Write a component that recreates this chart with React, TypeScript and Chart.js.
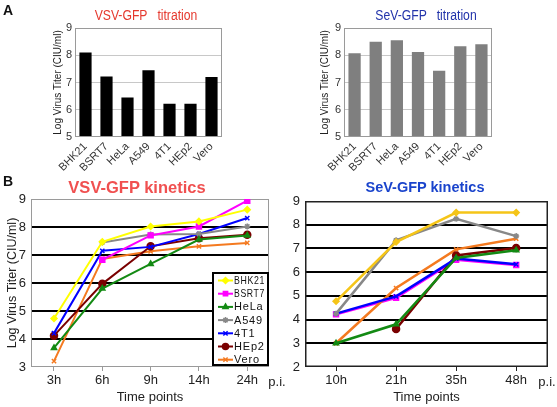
import React, { useEffect, useRef } from 'react';
import { Chart, registerables } from 'chart.js';
import { drawPoint } from 'chart.js/helpers';

Chart.register(...registerables);

const FONT = '"Liberation Sans", Arial, Helvetica, sans-serif';
Chart.defaults.font.family = FONT;

// ---------- data ----------
const cellLines = ['BHK21', 'BSRT7', 'HeLa', 'A549', '4T1', 'HEp2', 'Vero'];
const vsvTiter = [8.1, 7.22, 6.45, 7.45, 6.22, 6.22, 7.2];
const sevTiter = [8.07, 8.5, 8.55, 8.12, 7.43, 8.33, 8.4];
const titerTicks = [5, 6, 7, 8, 9];

const vsvTimes = ['3h', '6h', '9h', '14h', '24h'];
const vsvTicks = [3, 4, 5, 6, 7, 8, 9];
const vsvBHK21 = [4.73, 7.47, 8.02, 8.2, 8.62];
const vsvBSRT7 = [null, 6.83, 7.7, 8.02, 8.94];
const vsvHeLa = [3.68, 5.8, 6.68, 7.55, 7.7];
const vsvA549 = [null, 7.45, 7.73, 7.75, 8.02];
const vsv4T1 = [4.21, 7.15, 7.29, 7.75, 8.32];
const vsvHEp2 = [4.12, 5.97, 7.31, 7.6, 7.72];
const vsvVero = [3.21, 6.86, 7.13, 7.31, 7.43];

const sevTimes = ['10h', '21h', '35h', '48h'];
const sevTicks = [2, 3, 4, 5, 6, 7, 8, 9];
const sevBHK21 = [4.77, 7.27, 8.51, 8.51];
const sevBSRT7 = [4.22, 4.92, 6.52, 6.3];
const sevHeLa = [3.0, 3.8, 6.6, 6.92];
const sevA549 = [4.25, 7.34, 8.25, 7.52];
const sev4T1 = [4.25, 4.98, 6.57, 6.33];
const sevHEp2 = [null, 3.6, 6.7, 7.02];
const sevVero = [3.0, 5.33, 6.96, 7.41];

const vsvSeries = [vsvBHK21, vsvBSRT7, vsvHeLa, vsvA549, vsv4T1, vsvHEp2, vsvVero];
const sevSeries = [sevBHK21, sevBSRT7, sevHeLa, sevA549, sev4T1, sevHEp2, sevVero];

// ---------- styles ----------
type St = { color: string; pointStyle: string; radius: number };
const vsvStyles: St[] = [
  { color: '#ffff00', pointStyle: 'rectRot', radius: 3 },
  { color: '#ff00ff', pointStyle: 'rect', radius: 3.5 },
  { color: '#138a13', pointStyle: 'triangle', radius: 3 },
  { color: '#888888', pointStyle: 'star', radius: 3 },
  { color: '#0000ff', pointStyle: 'crossRot', radius: 3 },
  { color: '#7a0000', pointStyle: 'circle', radius: 3.5 },
  { color: '#f47a20', pointStyle: 'crossRot', radius: 3 },
];
const sevStyles: St[] = vsvStyles.map((s, i) => (i === 0 ? { ...s, color: '#f5c518' } : s));

const framePlugin = {
  id: 'frame',
  beforeDatasetsDraw(chart: any, _a: any, o: any) {
    if (o.after) return;
    drawFrame(chart, o);
  },
  afterDatasetsDraw(chart: any, _a: any, o: any) {
    if (!o.after) return;
    drawFrame(chart, o);
  },
};
function drawFrame(chart: any, o: any) {
  const { ctx, chartArea: a } = chart;
  ctx.save();
  ctx.strokeStyle = o.color || '#999';
  ctx.lineWidth = o.width || 1;
  const h = (o.width || 1) / 2;
  ctx.strokeRect(a.left + h, a.top + h, a.width - 2 * h, a.height - 2 * h);
  ctx.restore();
}

const boxLegendPlugin = {
  id: 'boxLegend',
  afterDatasetsDraw(chart: any, _a: any, o: any) {
    if (!o.display) return;
    const { ctx, chartArea: a } = chart;
    const w = 55, h = 92;
    const x0 = a.right - w - 1, y0 = a.bottom - h - 2;
    ctx.save();
    ctx.fillStyle = '#fff';
    ctx.fillRect(x0, y0, w, h);
    ctx.strokeStyle = '#000';
    ctx.lineWidth = 2;
    ctx.strokeRect(x0, y0, w, h);
    chart.data.datasets.forEach((ds: any, i: number) => {
      const y = y0 + 7.5 + i * 13.2;
      ctx.strokeStyle = ds.borderColor;
      ctx.fillStyle = ds.borderColor;
      ctx.lineWidth = 2;
      ctx.beginPath();
      ctx.moveTo(x0 + 5, y);
      ctx.lineTo(x0 + 20, y);
      ctx.stroke();
      ctx.lineWidth = 1.5;
      drawPoint(ctx, { pointStyle: ds.pointStyle, radius: 3, rotation: 0, borderWidth: 1.5 } as any, x0 + 12.5, y);
      ctx.fillStyle = '#111';
      ctx.font = '11px ' + FONT;
      ctx.textBaseline = 'middle';
      ctx.textAlign = 'left';
      (ctx as any).letterSpacing = '0.8px';
      ctx.fillText(ds.label, x0 + 21, y + 0.5, 31);
      (ctx as any).letterSpacing = '0px';
    });
    ctx.restore();
  },
};

// ---------- configs ----------
function barConfig(values: number[], color: string, padLeft: number, yW: number, padRight: number): any {
  return {
    type: 'bar',
    data: {
      labels: cellLines,
      datasets: [{ data: values, backgroundColor: color, borderWidth: 0, barPercentage: 0.58, categoryPercentage: 1 }],
    },
    options: {
      animation: false,
      responsive: false,
      devicePixelRatio: 1,
      layout: { autoPadding: false, padding: { left: padLeft, right: padRight, top: 28, bottom: 1 } },
      plugins: {
        legend: { display: false },
        tooltip: { enabled: false },
        frame: { color: '#9a9a9a', width: 1, after: true },
      },
      scales: {
        x: {
          grid: { display: false, drawTicks: false },
          border: { display: false },
          ticks: { minRotation: 45, maxRotation: 45, padding: 3, autoSkip: false, font: { size: 11 }, color: '#333' },
          afterFit: (s: any) => { s.height = 40; },
        },
        y: {
          min: 5,
          max: 9,
          afterBuildTicks: (s: any) => { s.ticks = titerTicks.map((v) => ({ value: v })); },
          ticks: { padding: 3, font: { size: 11 }, color: '#333' },
          grid: {
            drawTicks: false,
            lineWidth: 1,
            color: (c: any) => (c.tick && c.tick.value > 5 && c.tick.value < 9 ? '#c8c8c8' : 'rgba(0,0,0,0)'),
          },
          border: { display: false },
          title: { display: true, text: 'Log Virus Titer (CIU/ml)', font: { size: 10 }, color: '#222', padding: { top: 0, bottom: 0 } },
          afterFit: (s: any) => { s.width = yW; },
        },
      },
    },
    plugins: [framePlugin],
  };
}

function lineConfig(p: {
  seriesList: (number | null)[][];
  styles: St[];
  times: string[];
  yTicks: number[];
  xMin: number;
  xMax: number;
  padLeft: number;
  yW: number;
  padRight: number;
  padTop: number;
  frameColor: string;
  frameWidth: number;
  yTitle: boolean;
  legend: boolean;
  lineWidth: number;
  orders?: number[];
}): any {
  const yMin = p.yTicks[0];
  const yMax = p.yTicks[p.yTicks.length - 1];
  return {
    type: 'line',
    data: {
      datasets: cellLines.map((name, i) => ({
        label: name,
        data: p.seriesList[i].map((v, j) => ({ x: j, y: v })),
        borderColor: p.styles[i].color,
        backgroundColor: p.styles[i].color,
        pointBackgroundColor: p.styles[i].color,
        pointBorderColor: p.styles[i].color,
        pointStyle: p.styles[i].pointStyle,
        pointRadius: p.styles[i].radius,
        pointBorderWidth: 1.5,
        borderWidth: p.lineWidth,
        tension: 0,
        spanGaps: false,
        order: p.orders ? p.orders[i] : 0,
      })),
    },
    options: {
      animation: false,
      responsive: false,
      devicePixelRatio: 1,
      layout: { autoPadding: false, padding: { left: p.padLeft, right: p.padRight, top: p.padTop, bottom: 0 } },
      plugins: {
        legend: { display: false },
        tooltip: { enabled: false },
        frame: { color: p.frameColor, width: p.frameWidth, after: false },
        boxLegend: { display: p.legend },
      },
      scales: {
        x: {
          type: 'linear',
          min: p.xMin,
          max: p.xMax,
          afterBuildTicks: (s: any) => { s.ticks = p.times.map((_, i) => ({ value: i })); },
          ticks: {
            callback: (v: any) => p.times[v] ?? '',
            font: { size: 13 },
            color: '#222',
            padding: 2,
            autoSkip: false,
            maxRotation: 0,
          },
          grid: { drawOnChartArea: false, drawTicks: true, tickLength: 4, color: p.frameColor, lineWidth: 1 },
          border: { display: false },
          title: { display: true, text: 'Time points', font: { size: 13 }, color: '#222', padding: { top: 0, bottom: 2 } },
          afterFit: (s: any) => { s.height = 40; },
        },
        y: {
          min: yMin,
          max: yMax,
          afterBuildTicks: (s: any) => { s.ticks = p.yTicks.map((v) => ({ value: v })); },
          ticks: { padding: 5, font: { size: 13 }, color: '#222' },
          grid: {
            drawTicks: false,
            lineWidth: 2,
            color: (c: any) => (c.tick && c.tick.value > yMin && c.tick.value < yMax ? '#000' : 'rgba(0,0,0,0)'),
          },
          border: { display: false },
          title: {
            display: p.yTitle,
            text: 'Log Virus Titer (CIU/ml)',
            font: { size: 12.5 },
            color: '#222',
            padding: { top: 0, bottom: 0 },
          },
          afterFit: (s: any) => { s.width = p.yW; },
        },
      },
    },
    plugins: [framePlugin, boxLegendPlugin],
  };
}

// ---------- components ----------
function ChartCanvas(props: { make: () => any; left: number; top: number; width: number; height: number }) {
  const ref = useRef<HTMLCanvasElement>(null);
  useEffect(() => {
    const chart = new Chart(ref.current as HTMLCanvasElement, props.make());
    return () => chart.destroy();
  }, []);
  return (
    <canvas
      ref={ref}
      width={props.width}
      height={props.height}
      style={{ position: 'absolute', left: props.left, top: props.top, width: props.width, height: props.height }}
    />
  );
}

function Label(props: { x: number; y: number; text: string; size: number; color?: string; bold?: boolean; sx?: number }) {
  return (
    <div
      style={{
        position: 'absolute',
        left: props.x,
        top: props.y,
        transform: `translate(-50%, -50%) scaleX(${props.sx ?? 1})`,
        whiteSpace: 'pre',
        lineHeight: 1,
        fontFamily: FONT,
        fontSize: props.size,
        fontWeight: props.bold ? 'bold' : 'normal',
        color: props.color || '#222',
      }}
    >
      {props.text}
    </div>
  );
}

export default function App() {
  return (
    <div style={{ position: 'absolute', left: 0, top: 0, width: 557, height: 407, background: '#fff', overflow: 'hidden' }}>
      <ChartCanvas
        make={() =>
          lineConfig({
            seriesList: vsvSeries,
            styles: vsvStyles,
            times: vsvTimes,
            yTicks: vsvTicks,
            xMin: -0.476,
            xMax: 4.45,
            padLeft: 5,
            yW: 26,
            padRight: 11,
            padTop: 29,
            frameColor: '#9a9a9a',
            frameWidth: 1,
            yTitle: true,
            legend: true,
            lineWidth: 2,
          })
        }
        left={0}
        top={170}
        width={280}
        height={237}
      />
      <ChartCanvas
        make={() =>
          lineConfig({
            seriesList: sevSeries,
            styles: sevStyles,
            times: sevTimes,
            yTicks: sevTicks,
            xMin: -0.517,
            xMax: 3.53,
            padLeft: 0,
            yW: 25,
            padRight: 9,
            padTop: 31,
            frameColor: '#222',
            frameWidth: 1.5,
            yTitle: false,
            legend: false,
            lineWidth: 2.5,
            orders: [0, 1, 0, 0, 0, 0, 0],
          })
        }
        left={280}
        top={170}
        width={277}
        height={237}
      />
      <ChartCanvas make={() => barConfig(vsvTiter, '#000000', 52, 23, 58)} left={0} top={0} width={280} height={178} />
      <ChartCanvas make={() => barConfig(sevTiter, '#7f7f7f', 39, 25, 65)} left={280} top={0} width={277} height={178} />
      <Label x={8} y={10} text="A" size={14} bold color="#111" />
      <Label x={8} y={181} text="B" size={14} bold color="#111" />
      <Label x={145.5} y={15} text="VSV-GFP   titration" size={14} sx={0.87} color="#e5392e" />
      <Label x={426} y={15} text="SeV-GFP   titration" size={14} sx={0.87} color="#2233aa" />
      <Label x={137} y={187} text="VSV-GFP kinetics" size={16.5} bold color="#f05050" />
      <Label x={425} y={187} text="SeV-GFP kinetics" size={14.5} bold color="#1a44cc" />
      <Label x={277} y={381} text="p.i." size={13} />
      <Label x={547} y={381} text="p.i." size={13} />
    </div>
  );
}
